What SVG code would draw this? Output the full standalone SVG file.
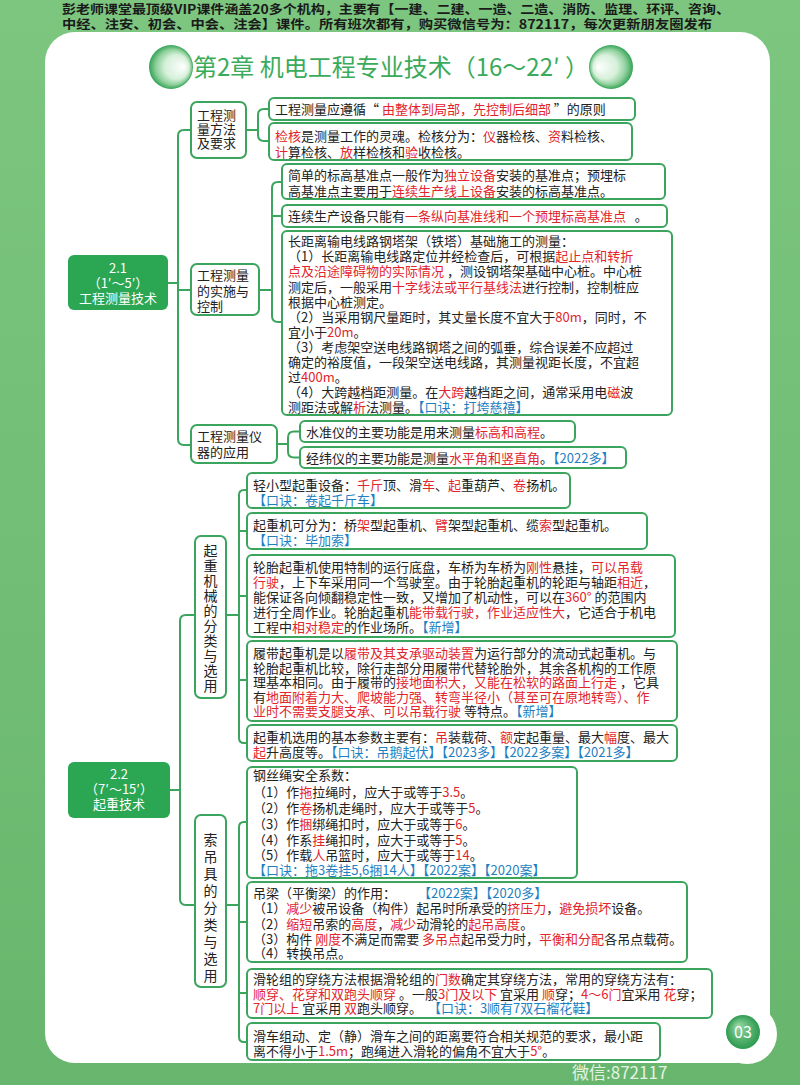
<svg xmlns="http://www.w3.org/2000/svg" width="800" height="1085" viewBox="0 0 800 1085">
<defs>
<linearGradient id="bg" x1="0" y1="0" x2="0" y2="1"><stop offset="0" stop-color="#7cc680"/><stop offset="1" stop-color="#68b66d"/></linearGradient>
<radialGradient id="ballL" cx="0.5" cy="0.5" r="0.5" fx="0.8" fy="0.5"><stop offset="0" stop-color="#ffffff"/><stop offset="0.55" stop-color="#d6f0da"/><stop offset="0.8" stop-color="#8fd09c"/><stop offset="1" stop-color="#34a356"/></radialGradient>
<radialGradient id="ballR" cx="0.5" cy="0.5" r="0.5" fx="0.2" fy="0.5"><stop offset="0" stop-color="#ffffff"/><stop offset="0.55" stop-color="#d6f0da"/><stop offset="0.8" stop-color="#8fd09c"/><stop offset="1" stop-color="#34a356"/></radialGradient>
<radialGradient id="ball3" cx="0.5" cy="0.5" r="0.5" fx="0.35" fy="0.3"><stop offset="0" stop-color="#9ad9a4"/><stop offset="1" stop-color="#2c9a4f"/></radialGradient>
<style>
text{font-family:"Noto Sans CJK SC","Noto Sans",sans-serif;}
.t{font-size:13px;fill:#222;}
.hd{font-size:12.5px;fill:#1a1a1a;font-weight:700;}
.r{fill:#e2252c;}
.b{fill:#1f7fc1;}
.box{fill:#fff;stroke:#3ba45d;stroke-width:2;}
.sec{fill:#2ba653;}
.st{font-size:13px;fill:#fff;text-anchor:middle;}
.vt{font-size:14px;fill:#222;writing-mode:vertical-rl;}
.con{fill:none;stroke:#3ba45d;stroke-width:2;}
</style>
</defs>

<rect x="0" y="0" width="800" height="1085" fill="url(#bg)"/>
<text class="hd" x="62" y="14" textLength="668" lengthAdjust="spacingAndGlyphs">彭老师课堂最顶级VIP课件涵盖20多个机构，主要有【一建、二建、一造、二造、消防、监理、环评、咨询、</text>
<text class="hd" x="62" y="28.5" textLength="650" lengthAdjust="spacingAndGlyphs">中经、注安、初会、中会、注会】课件。所有班次都有，购买微信号为：872117，每次更新朋友圈发布</text>

<rect x="45" y="32" width="725" height="1031" rx="30" fill="#ffffff"/>
<circle cx="747" cy="1034" r="30" fill="#ffffff"/>
<circle cx="743" cy="1032" r="17" fill="url(#ball3)"/>
<text x="743" y="1038" font-size="16" fill="#ffffff" text-anchor="middle">03</text>
<text x="572" y="1079" font-size="17" fill="#e4f2e4">微信:872117</text>

<g id="title">
<circle cx="171" cy="67" r="22" fill="url(#ballL)"/>
<circle cx="611" cy="67" r="22" fill="url(#ballR)"/>
<text x="193" y="76" font-size="24" fill="#3aab5b" textLength="396" lengthAdjust="spacingAndGlyphs">第2章 机电工程专业技术（16～22′ ）</text>
</g>

<g id="connectors">
<path class="con" d="M191 130 H184 Q178 130 178 136 V439 Q178 445 184 445 H191 M168 283 H178 M178 290 H191"/>
<path class="con" d="M269 109 H264 Q258 109 258 115 V135 Q258 141 264 141 H269 M246 130 H258"/>
<path class="con" d="M282 182 H278 Q272 182 272 188 V316 Q272 322 278 322 H282 M272 216 H282 M259 290 H272"/>
<path class="con" d="M300 431.5 H294 Q288 431.5 288 437.5 V451.5 Q288 457.5 294 457.5 H300 M277 444 H288"/>
<path class="con" d="M195 615 H186 Q180 615 180 621 V899 Q180 905 186 905 H195 M170 790 H180"/>
<path class="con" d="M247 490 H244 Q239 490 239 495 V738 Q239 743 244 743 H247 M239 531 H247 M239 596 H247 M239 680 H247 M226 615 H239"/>
<path class="con" d="M247 822 H244 Q239 822 239 827 V1037 Q239 1042 244 1042 H247 M239 922 H247 M239 993 H247 M226 905 H239"/>
</g>

<g id="sec21">
<rect class="sec" x="68" y="255" width="100" height="55" rx="6"/>
<text class="st" x="118" y="273">2.1</text>
<text class="st" x="118" y="288">（1′～5′）</text>
<text class="st" x="118" y="303">工程测量技术</text>
</g>

<g id="n-method">
<rect class="box" x="191" y="102" width="55" height="56" rx="6"/>
<text class="t" x="197" y="120">工程测</text>
<text class="t" x="197" y="134">量方法</text>
<text class="t" x="197" y="148">及要求</text>
</g>
<g id="n-principle">
<rect class="box" x="269" y="98" width="366" height="22" rx="5"/>
<text class="t" x="275" y="114">工程测量应遵循“ <tspan class="r">由整体到局部，先控制后细部</tspan> ”的原则</text>
</g>
<g id="n-check">
<rect class="box" x="269" y="123" width="363" height="37" rx="5"/>
<text class="t" x="275" y="141"><tspan class="r">检核</tspan>是测量工作的灵魂。检核分为：<tspan class="r">仪</tspan>器检核、<tspan class="r">资</tspan>料检核、</text>
<text class="t" x="275" y="156.5"><tspan class="r">计</tspan>算检核、<tspan class="r">放</tspan>样检核和<tspan class="r">验</tspan>收检核。</text>
</g>

<g id="n-impl">
<rect class="box" x="191" y="264" width="68" height="51" rx="6"/>
<text class="t" x="197" y="280">工程测量</text>
<text class="t" x="197" y="295.5">的实施与</text>
<text class="t" x="197" y="311">控制</text>
</g>
<g id="n-benchmark">
<rect class="box" x="282" y="164" width="383" height="35" rx="5"/>
<text class="t" x="288" y="180">简单的标高基准点一般作为<tspan class="r">独立设备</tspan>安装的基准点；预埋标</text>
<text class="t" x="288" y="195.5">高基准点主要用于<tspan class="r">连续生产线上设备</tspan>安装的标高基准点。</text>
</g>
<g id="n-continuous">
<rect class="box" x="282" y="205" width="385" height="22" rx="5"/>
<text class="t" x="288" y="221">连续生产设备只能有<tspan class="r">一条纵向基准线和一个预埋标高基准点</tspan>&#160;&#160;&#160;。</text>
</g>
<g id="n-tower">
<rect class="box" x="282" y="231" width="390" height="184" rx="5"/>
<text class="t" x="288" y="246">长距离输电线路钢塔架（铁塔）基础施工的测量：</text>
<text class="t" x="288" y="261">（1）长距离输电线路定位并经检查后，可根据<tspan class="r">起止点和转折</tspan></text>
<text class="t" x="288" y="276"><tspan class="r">点及沿途障碍物的实际情况</tspan> ，测设钢塔架基础中心桩。中心桩</text>
<text class="t" x="288" y="291.5">测定后，一般采用<tspan class="r">十字线法或平行基线法</tspan>进行控制，控制桩应</text>
<text class="t" x="288" y="306.5">根据中心桩测定。</text>
<text class="t" x="288" y="321.5">（2）当采用钢尺量距时，其丈量长度不宜大于<tspan class="r">80m</tspan>，同时，不</text>
<text class="t" x="288" y="336.5">宜小于<tspan class="r">20m</tspan>。</text>
<text class="t" x="288" y="351.5">（3）考虑架空送电线路钢塔之间的弧垂，综合误差不应超过</text>
<text class="t" x="288" y="366.5">确定的裕度值，一段架空送电线路，其测量视距长度，不宜超</text>
<text class="t" x="288" y="381.5">过<tspan class="r">400m</tspan>。</text>
<text class="t" x="288" y="396.5">（4）大跨越档距测量。在<tspan class="r">大跨</tspan>越档距之间，通常采用电<tspan class="r">磁</tspan>波</text>
<text class="t" x="288" y="411.5">测距法或解<tspan class="r">析</tspan>法测量。<tspan class="b">【口诀：打垮慈禧】</tspan></text>
</g>

<g id="n-instrument">
<rect class="box" x="191" y="425" width="86" height="38" rx="6"/>
<text class="t" x="197" y="441">工程测量仪</text>
<text class="t" x="197" y="457">器的应用</text>
</g>
<g id="n-level">
<rect class="box" x="300" y="421" width="275" height="21" rx="5"/>
<text class="t" x="306" y="436.5">水准仪的主要功能是用来测量<tspan class="r">标高和高程</tspan>。</text>
</g>
<g id="n-theodolite">
<rect class="box" x="300" y="447" width="326" height="21" rx="5"/>
<text class="t" x="306" y="462.5">经纬仪的主要功能是测量<tspan class="r">水平角和竖直角</tspan>。<tspan class="b">【2022多】</tspan></text>
</g>

<g id="sec22">
<rect class="sec" x="68" y="762" width="102" height="56" rx="6"/>
<text class="st" x="119" y="779">2.2</text>
<text class="st" x="119" y="794">（7′～15′）</text>
<text class="st" x="119" y="809">起重技术</text>
</g>

<g id="n-crane">
<rect class="box" x="195" y="536" width="31" height="162" rx="6"/>
<text class="vt" x="210.5" y="544" letter-spacing="1">起重机械的分类与选用</text>
</g>
<g id="n-light">
<rect class="box" x="247" y="473" width="323" height="35" rx="5"/>
<text class="t" x="253" y="490">轻小型起重设备：<tspan class="r">千斤</tspan>顶、滑<tspan class="r">车</tspan>、<tspan class="r">起</tspan>重葫芦、<tspan class="r">卷</tspan>扬机。</text>
<text class="t" x="253" y="505"><tspan class="b">【口诀：卷起千斤车】</tspan></text>
</g>
<g id="n-types">
<rect class="box" x="247" y="513" width="400" height="36" rx="5"/>
<text class="t" x="253" y="530">起重机可分为：桥<tspan class="r">架</tspan>型起重机、<tspan class="r">臂</tspan>架型起重机、缆<tspan class="r">索</tspan>型起重机。</text>
<text class="t" x="253" y="545"><tspan class="b">【口诀：毕加索】</tspan></text>
</g>
<g id="n-tyre">
<rect class="box" x="247" y="555" width="428" height="82" rx="5"/>
<text class="t" x="253" y="572">轮胎起重机使用特制的运行底盘，车桥为车桥为<tspan class="r">刚性</tspan>悬挂，<tspan class="r">可以吊载</tspan></text>
<text class="t" x="253" y="587"><tspan class="r">行驶</tspan>，上下车采用同一个驾驶室。由于轮胎起重机的轮距与轴距<tspan class="r">相近</tspan>，</text>
<text class="t" x="253" y="602">能保证各向倾翻稳定性一致，又增加了机动性，可以在<tspan class="r">360°</tspan> 的范围内</text>
<text class="t" x="253" y="617">进行全周作业。轮胎起重机<tspan class="r">能带载行驶，作业适应性大</tspan>，它适合于机电</text>
<text class="t" x="253" y="632">工程中<tspan class="r">相对稳定</tspan>的作业场所。<tspan class="b">【新增】</tspan></text>
</g>
<g id="n-crawler">
<rect class="box" x="247" y="641" width="430" height="80" rx="5"/>
<text class="t" x="253" y="658">履带起重机是以<tspan class="r">履带及其支承驱动装置</tspan>为运行部分的流动式起重机。与</text>
<text class="t" x="253" y="672.5">轮胎起重机比较，除行走部分用履带代替轮胎外，其余各机构的工作原</text>
<text class="t" x="253" y="687">理基本相同。由于履带的<tspan class="r">接地面积大，又能在松软的路面上行走</tspan> ，它具</text>
<text class="t" x="253" y="701.5">有<tspan class="r">地面附着力大、爬坡能力强、转弯半径小（甚至可在原地转弯）、作</tspan></text>
<text class="t" x="253" y="716"><tspan class="r">业时不需要支腿支承、可以吊载行驶</tspan> 等特点。<tspan class="b">【新增】</tspan></text>
</g>
<g id="n-params">
<rect class="box" x="247" y="725" width="430" height="36" rx="5"/>
<text class="t" x="253" y="742">起重机选用的基本参数主要有：<tspan class="r">吊</tspan>装载荷、<tspan class="r">额</tspan>定起重量、最大<tspan class="r">幅</tspan>度、最大</text>
<text class="t" x="253" y="756.5"><tspan class="r">起</tspan>升高度等。<tspan class="b">【口诀：吊鹅起伏】【2023多】【2022多案】【2021多】</tspan></text>
</g>

<g id="n-rigging">
<rect class="box" x="195" y="815" width="31" height="172" rx="6"/>
<text class="vt" x="210.5" y="833" letter-spacing="3">索吊具的分类与选用</text>
</g>
<g id="n-rope">
<rect class="box" x="247" y="767" width="330" height="111" rx="5"/>
<text class="t" x="253" y="780">钢丝绳安全系数：</text>
<text class="t" x="253" y="797">（1）作<tspan class="r">拖</tspan>拉绳时，应大于或等于<tspan class="r">3.5</tspan>。</text>
<text class="t" x="253" y="813">（2）作<tspan class="r">卷</tspan>扬机走绳时，应大于或等于<tspan class="r">5</tspan>。</text>
<text class="t" x="253" y="829">（3）作<tspan class="r">捆</tspan>绑绳扣时，应大于或等于<tspan class="r">6</tspan>。</text>
<text class="t" x="253" y="844.5">（4）作系<tspan class="r">挂</tspan>绳扣时，应大于或等于<tspan class="r">5</tspan>。</text>
<text class="t" x="253" y="860">（5）作载<tspan class="r">人</tspan>吊篮时，应大于或等于<tspan class="r">14</tspan>。</text>
<text class="t" x="253" y="874.5"><tspan class="b">【口诀：拖3卷挂5,6捆14人】【2022案】【2020案】</tspan></text>
</g>
<g id="n-beam">
<rect class="box" x="247" y="882" width="440" height="80" rx="5"/>
<text class="t" x="253" y="898">吊梁（平衡梁）的作用：<tspan class="b" x="418">【2022案】【2020多】</tspan></text>
<text class="t" x="253" y="913">（1）<tspan class="r">减少</tspan>被吊设备（构件）起吊时所承受的<tspan class="r">挤压力</tspan>，<tspan class="r">避免损坏</tspan>设备。</text>
<text class="t" x="253" y="929">（2）<tspan class="r">缩短</tspan>吊索的<tspan class="r">高度</tspan>，<tspan class="r">减少</tspan>动滑轮的<tspan class="r">起吊高度</tspan>。</text>
<text class="t" x="253" y="943.5">（3）构件 <tspan class="r">刚度</tspan>不满足而需要 <tspan class="r">多吊点</tspan>起吊受力时，<tspan class="r">平衡和分配</tspan>各吊点载荷。</text>
<text class="t" x="253" y="958">（4）转换吊点。</text>
</g>
<g id="n-pulley">
<rect class="box" x="247" y="969" width="465" height="49" rx="5"/>
<text class="t" x="253" y="984">滑轮组的穿绕方法根据滑轮组的<tspan class="r">门数</tspan>确定其穿绕方法，常用的穿绕方法有：</text>
<text class="t" x="253" y="998.5"><tspan class="r">顺穿、花穿和双跑头顺穿</tspan> 。一般<tspan class="r">3门及以下</tspan> 宜采用 <tspan class="r">顺</tspan>穿；<tspan class="r">4～6门</tspan>宜采用 <tspan class="r">花</tspan>穿；</text>
<text class="t" x="253" y="1013"><tspan class="r">7门以上</tspan> 宜采用 <tspan class="r">双</tspan>跑头顺穿。&#160;&#160;<tspan class="b">【口诀：3顺有7双石榴花鞋】</tspan></text>
</g>
<g id="n-block">
<rect class="box" x="247" y="1023" width="413" height="37" rx="5"/>
<text class="t" x="253" y="1040.5">滑车组动、定（静）滑车之间的距离要符合相关规范的要求，最小距</text>
<text class="t" x="253" y="1055.5">离不得小于<tspan class="r">1.5m</tspan>；跑绳进入滑轮的偏角不宜大于<tspan class="r">5°</tspan>。</text>
</g>
</svg>
